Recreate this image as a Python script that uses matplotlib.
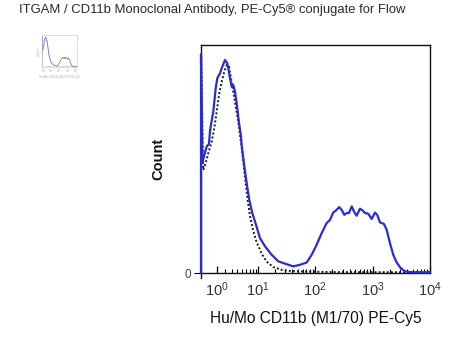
import numpy as np
import matplotlib
matplotlib.use("Agg")
import matplotlib.pyplot as plt
from matplotlib.ticker import FixedLocator, NullFormatter, FixedFormatter

plt.rcParams['font.family'] = ['Liberation Sans', 'DejaVu Sans']
plt.rcParams['mathtext.fontset'] = 'custom'
plt.rcParams['mathtext.rm'] = 'Liberation Sans'
plt.rcParams['mathtext.it'] = 'Liberation Sans:italic'
plt.rcParams['mathtext.bf'] = 'Liberation Sans:bold'

# ---------------- data ----------------
title_text = "ITGAM / CD11b Monoclonal Antibody, PE-Cy5\u00ae conjugate for Flow"
x_label = "Hu/Mo CD11b (M1/70) PE-Cy5"
y_label = "Count"
major_ticks = [1, 10, 100, 1000, 10000]
major_labels = ["$10^{0}$", "$10^{1}$", "$10^{2}$", "$10^{3}$", "$10^{4}$"]
y_ticks = [0]
y_tick_labels = ["0"]
x_min, x_max = -0.76, 10000
y_min, y_max = 0, 100

stained_x = [-0.76, -0.76, -0.615, -0.394, -0.133, 0.116, 0.219, 0.333, 0.586, 0.855,
             1.039, 1.359, 1.643, 1.996, 2.315, 2.460, 2.715, 2.982, 3.247, 3.541,
             3.854, 4.302, 4.721, 4.883, 5.493, 6.107, 6.838, 7.774, 9.087, 10.73,
             13.2, 17.3, 22.7, 29.7, 41.4, 54.2, 71.0, 86.7, 106, 129.5,
             158, 181, 206, 236, 262, 289, 321, 353, 387, 432,
             473, 527, 602, 671, 736, 840, 963, 1099, 1205, 1343,
             1577, 1757, 2006, 2290, 2624, 3081, 3661, 5106, 10000]
stained_y = [0, 96, 48.2, 51.8, 55.5, 56.6, 62, 65, 70.8, 81,
             85.4, 87.6, 90.5, 93.4, 92, 89.8, 85.4, 81.7, 82.5, 79.5,
             74.5, 66, 60, 56, 47, 39.4, 32.1, 26.3, 21.2, 15.3,
             11.7, 8.0, 5.1, 4.1, 2.9, 3.6, 4.6, 8.0, 12.4, 17.5,
             21.9, 23.3, 26.5, 27.7, 28.9, 27.7, 25.5, 26.3, 26.3, 29.2,
             27.0, 25.1, 28.2, 27.4, 26.3, 26.0, 23.7, 26.5, 25.5, 22.2,
             21.5, 19.0, 13.1, 8.0, 4.6, 2.2, 0.7, 0.3, 0.3]

control_x = [-0.76, -0.76, -0.504, -0.242, 0.040, 0.410, 0.697, 0.969, 1.239, 1.567,
             1.903, 2.230, 2.561, 2.869, 3.247, 3.669, 4.165, 4.513, 4.883, 5.659,
             6.380, 7.048, 8.111, 9.357, 11.5, 14.1, 18.5, 26.0, 38.9, 188, 10000]
control_y = [0, 96, 45.2, 48.2, 52.6, 57.6, 63.5, 70.8, 78.1, 83.9,
             88.3, 91.2, 90.5, 85.4, 79.5, 73, 66.4, 60.6, 55, 42,
             32, 25, 18.3, 13.5, 8.5, 5, 2.6, 1.4, 0.8, 0.4, 0.3]

# ------------- biexponential-like display scale -------------
def fwd(x):
    return np.arcsinh(np.asarray(x, dtype=float) / 2.7)

def inv(u):
    return 2.7 * np.sinh(np.asarray(u, dtype=float))

minor_ticks = [m * 10 ** k for k in range(0, 4) for m in range(2, 10)]

W, H = 453, 337
fig = plt.figure(figsize=(W / 100, H / 100), dpi=100)
fig.patch.set_facecolor("white")

fig.text(19 / W, 1 - 10.5 / H, title_text, fontsize=9.4, color="#2a2a2a",
         ha="left", va="center")

# ---------------- main axes ----------------
ax = fig.add_axes([201 / W, 1 - 273 / H, 229 / W, 228 / H])
ax.set_xscale("function", functions=(fwd, inv))
ax.plot(control_x, control_y, color="#1a1a1a", lw=1.4, ls=(0, (1, 1.1)), zorder=3)
ax.plot(stained_x, stained_y, color="#2b2bd2", lw=1.6, zorder=4, clip_on=False)
ax.set_xlim(x_min, x_max)
ax.set_ylim(y_min, y_max)

ax.xaxis.set_major_locator(FixedLocator(major_ticks))
ax.xaxis.set_major_formatter(FixedFormatter(major_labels))
ax.xaxis.set_minor_locator(FixedLocator(minor_ticks))
ax.xaxis.set_minor_formatter(NullFormatter())
ax.tick_params(axis="x", which="major", direction="in", length=5, width=0.9,
               labelsize=10.5, labelcolor="#333333", pad=5.5)
ax.tick_params(axis="x", which="minor", direction="in", length=3, width=0.8)
ax.set_yticks(y_ticks)
ax.set_yticklabels(y_tick_labels)
ax.tick_params(axis="y", direction="out", length=5, width=0.8, labelsize=8.5,
               labelcolor="#444444", pad=2)
for s in ax.spines.values():
    s.set_linewidth(1.0)
    s.set_color("#111111")
ax.spines["left"].set_bounds(-2.2, y_max)

ax.set_xlabel(x_label, fontsize=11.2, color="#111111")
ax.xaxis.set_label_coords(0.5, -0.165)
ax.xaxis.label.set_va("top")
ax.set_ylabel(y_label, fontsize=10.5, fontweight="bold", color="#111111")
ax.yaxis.set_label_coords(-0.155, 0.5)

# ---------------- thumbnail ----------------
th = fig.add_axes([42 / W, 1 - 66.5 / H, 34.5 / W, 31.5 / H])
th.set_xscale("function", functions=(fwd, inv))
th.plot(control_x, control_y, color="#b8b8b8", lw=0.4, ls=(0, (1, 1)))
th.plot(stained_x, stained_y, color="#7a7ad8", lw=0.6)
th.set_xlim(x_min, x_max)
th.set_ylim(y_min, y_max)
th.set_xticks(major_ticks)
th.set_xticklabels(major_labels)
th.xaxis.set_minor_locator(FixedLocator(minor_ticks))
th.xaxis.set_minor_formatter(NullFormatter())
th.tick_params(axis="x", which="both", direction="in", length=0.8, width=0.3,
               labelsize=2, labelcolor="#aaaaaa", pad=0.5, color="#bbbbbb")
th.set_yticks([])
for s in th.spines.values():
    s.set_linewidth(0.4)
    s.set_color("#c4c4c4")
th.set_xlabel(x_label, fontsize=2.2, color="#aaaaaa", labelpad=0.5)
th.set_ylabel(y_label, fontsize=2.6, color="#aaaaaa", labelpad=1)

fig.savefig("out.png", dpi=100, facecolor="white")
